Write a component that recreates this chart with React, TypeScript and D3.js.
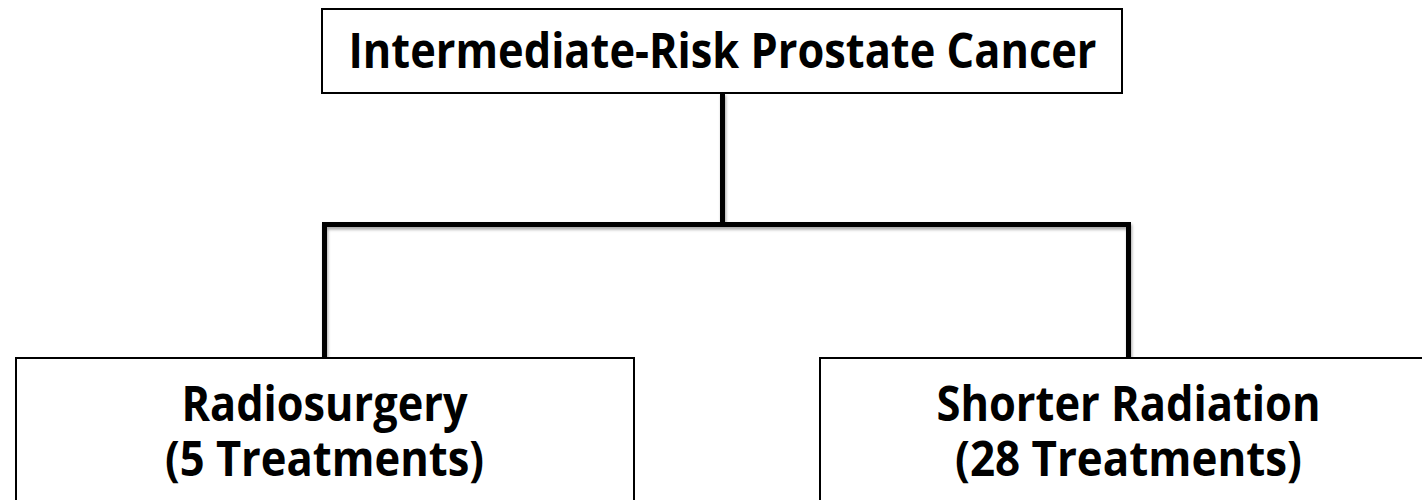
import React from "react";
import * as d3 from "d3";

const rootLabel = ["Intermediate-Risk Prostate Cancer"];
const childIds = ["radiosurgery", "shorter"];
const childLines = [
  ["Radiosurgery", "(5 Treatments)"],
  ["Shorter Radiation", "(28 Treatments)"],
];

const W = 1422;
const H = 500;
const FONT = "'Open Sans', 'Liberation Sans', sans-serif";

// measured widths for text fitting (layout, not data)
const rootTextW = 748;
const childTextW = [
  [286, 319],
  [384, 347],
];

export default function App() {
  const x = d3.scalePoint<string>().domain(childIds).range([324.5, 1128.5]);
  const rootX = 722.5;
  const rootBox = { x: 322, y: 9, w: 800, h: 84 };
  const childBoxW = 618;
  const childTop = 358;
  const busY = 224.5;
  const lineW = 5;
  const fs = 49;

  const link = d3.line<[number, number]>();

  return (
    <svg
      width={W}
      height={H}
      style={{ position: "absolute", left: 0, top: 0, background: "#fff" }}
    >
      <defs>
        <filter id="sh" x="-20%" y="-20%" width="140%" height="160%">
          <feDropShadow dx="1" dy="2.5" stdDeviation="1.6" floodColor="#000" floodOpacity="0.35" />
        </filter>
      </defs>
      <rect width={W} height={H} fill="#fff" />
      {/* connectors */}
      <g stroke="#000" strokeWidth={lineW} fill="none" filter="url(#sh)">
        <path d={link([[rootX, rootBox.y + rootBox.h], [rootX, busY]]) || ""} />
        <path d={link([[x(childIds[0])! - 2.5, busY], [x(childIds[1])! + 2.5, busY]]) || ""} />
        {childIds.map((id) => (
          <path key={id} d={link([[x(id)!, busY - 2.5], [x(id)!, childTop]]) || ""} />
        ))}
      </g>
      {/* root box */}
      <rect
        x={rootBox.x}
        y={rootBox.y}
        width={rootBox.w}
        height={rootBox.h}
        fill="#fff"
        stroke="#000"
        strokeWidth={2}
      />
      <text
        x={rootX}
        y={68}
        textAnchor="middle"
        fontFamily={FONT}
        fontWeight="bold"
        fontSize={fs}
        textLength={rootTextW}
        lengthAdjust="spacingAndGlyphs"
      >
        {rootLabel[0]}
      </text>
      {/* child boxes */}
      {childIds.map((id, i) => (
        <g key={id}>
          <rect
            x={x(id)! - childBoxW / 2 + 0.5}
            y={childTop}
            width={childBoxW}
            height={200}
            fill="#fff"
            stroke="#000"
            strokeWidth={2}
          />
          <text
            textAnchor="middle"
            fontFamily={FONT}
            fontWeight="bold"
            fontSize={fs - 1}
          >
            {childLines[i].map((t, j) => (
              <tspan
                key={j}
                x={x(id)!}
                y={421 + j * 55}
                textLength={childTextW[i][j]}
                lengthAdjust="spacingAndGlyphs"
              >
                {t}
              </tspan>
            ))}
          </text>
        </g>
      ))}
    </svg>
  );
}
